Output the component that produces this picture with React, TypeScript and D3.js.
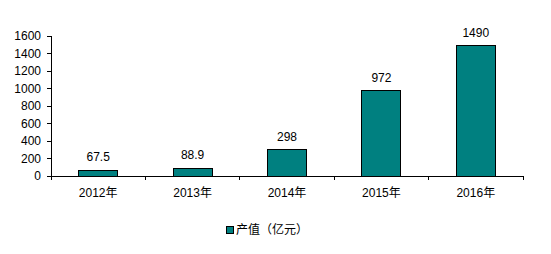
import React from "react";
import * as d3 from "d3";

const categories = ["2012年", "2013年", "2014年", "2015年", "2016年"];
const values = [67.5, 88.9, 298, 972, 1490];
const valueLabels = ["67.5", "88.9", "298", "972", "1490"];
const yTicks = [0, 200, 400, 600, 800, 1000, 1200, 1400, 1600];
const legendLabel = "产值（亿元）";

export default function App() {
  const W = 551, H = 254;
  const left = 51, right = 523, top = 36, bottom = 176;
  const x = d3.scaleBand<string>().domain(categories).range([left, right]).paddingInner(0.585).paddingOuter(0.2925);
  const y = d3.scaleLinear().domain([0, 1600]).range([bottom, top]);
  const step = x.step();
  const font = "Arial, 'Liberation Sans', 'Noto Sans CJK SC', sans-serif";
  return (
    <svg width={W} height={H} style={{ position: "absolute", left: 0, top: 0, background: "#fff" }} fontFamily={font}>
      {categories.map((c, i) => (
        <rect key={c} x={x(c)} y={y(values[i])} width={x.bandwidth()} height={bottom - y(values[i])}
          fill="#008080" stroke="#000" strokeWidth={1} shapeRendering="crispEdges" />
      ))}
      <line x1={left} x2={left} y1={top} y2={bottom} stroke="#000" shapeRendering="crispEdges" />
      {yTicks.map(t => (
        <g key={t}>
          <line x1={left - 4} x2={left} y1={y(t)} y2={y(t)} stroke="#000" shapeRendering="crispEdges" />
          <text x={41} y={y(t)} dy="0.35em" textAnchor="end" fontSize={12} fill="#000">{t}</text>
        </g>
      ))}
      <line x1={left} x2={right} y1={bottom} y2={bottom} stroke="#000" shapeRendering="crispEdges" />
      {d3.range(categories.length + 1).map(i => (
        <line key={i} x1={left + i * step} x2={left + i * step} y1={bottom} y2={bottom + 4} stroke="#000" shapeRendering="crispEdges" />
      ))}
      {categories.map((c, i) => (
        <text key={c} x={(x(c) as number) + x.bandwidth() / 2} y={197} textAnchor="middle" fontSize={12} fill="#000">{c}</text>
      ))}
      {categories.map((c, i) => (
        <text key={c + "v"} x={(x(c) as number) + x.bandwidth() / 2} y={y(values[i]) - 9} textAnchor="middle" fontSize={12} fill="#000">{valueLabels[i]}</text>
      ))}
      <rect x={226} y={226} width={7} height={7} fill="#008080" stroke="#000" strokeWidth={1} shapeRendering="crispEdges" />
      <text x={236} y={234} fontSize={12} fill="#000">{legendLabel}</text>
    </svg>
  );
}
